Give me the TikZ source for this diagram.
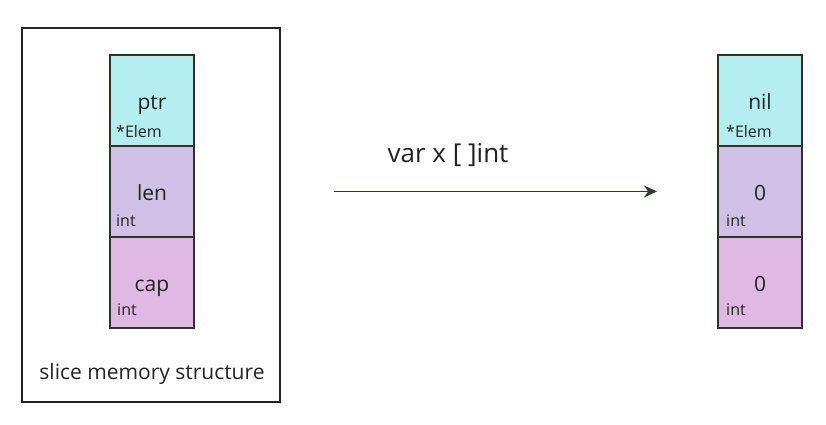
\documentclass[tikz,border=0pt]{standalone}
\usepackage{fontspec}
\setmainfont{Open Sans}
\usetikzlibrary{arrows.meta, positioning}

\definecolor{ptrfill}{HTML}{B5EEF0}
\definecolor{lenfill}{HTML}{D1C0E6}
\definecolor{capfill}{HTML}{DFB9E3}
\definecolor{celledge}{HTML}{2B3427}
\definecolor{ink}{HTML}{222222}
\definecolor{flowcol}{HTML}{2E3B2B}

\begin{document}
\begin{tikzpicture}[x=1pt, y=-1pt,
    cell/.style={draw=celledge, line width=1.8pt, minimum width=84pt, minimum height=91pt,
        inner sep=0pt, outer sep=0pt, text height=22pt, text depth=5pt, text=ink,
        font=\fontsize{21}{25}\selectfont},
    typename/.style={anchor=base west, inner sep=0pt, text=ink, font=\fontsize{16}{19}\selectfont},
    caption/.style={inner sep=0pt, text=ink, font=\fontsize{21}{25}\selectfont},
    flow/.style={draw=flowcol, line width=1.6pt, -{Stealth[length=13pt, width=12pt]}}]
    \useasboundingbox (0,0) rectangle (826,424);

    % slice header, left
    \node[draw=ink, line width=1.6pt, minimum width=258pt, minimum height=374pt] (frame) at (151,215) {};
    \node[cell, fill=ptrfill] (ptr) at (152,100.5) {ptr};
    \node[cell, fill=lenfill, below=0pt of ptr] (len) {len};
    \node[cell, fill=capfill, below=0pt of len] (cap) {cap};
    \node[typename] (ptrtype) at ([xshift=6pt, yshift=9pt]ptr.south west) {*Elem};
    \node[typename] (lentype) at ([xshift=6pt, yshift=11pt]len.south west) {int};
    \node[typename] (captype) at ([xshift=7pt, yshift=13pt]cap.south west) {int};
    \node[caption] (title) at (152,374) {slice memory structure};

    % zero value, right
    \node[cell, fill=ptrfill] (nilptr) at (760,100.5) {nil};
    \node[cell, fill=lenfill, below=0pt of nilptr] (zerolen) {0};
    \node[cell, fill=capfill, below=0pt of zerolen] (zerocap) {0};
    \node[typename] (niltype) at ([xshift=8pt, yshift=9pt]nilptr.south west) {*Elem};
    \node[typename] (zlentype) at ([xshift=8pt, yshift=11pt]zerolen.south west) {int};
    \node[typename] (zcaptype) at ([xshift=8pt, yshift=13pt]zerocap.south west) {int};

    % declaration
    \node[caption, font=\fontsize{26}{30}\selectfont] (decl) at (448,155) {var x [ ]int};
    \draw[flow, shorten <=53pt, shorten >=61pt] (frame.east |- len.center) -- (zerolen.west);
\end{tikzpicture}
\end{document}
